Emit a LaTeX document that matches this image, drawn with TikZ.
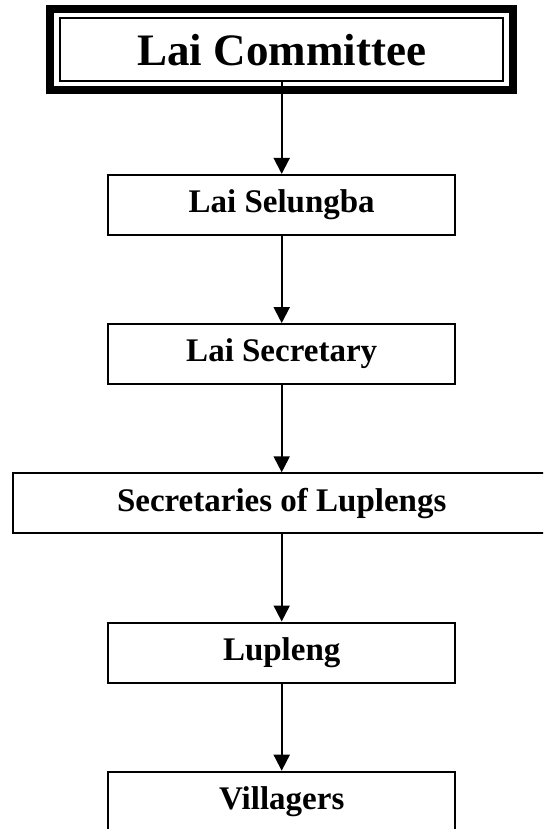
\documentclass[tikz,border=0pt]{standalone}
\usepackage{fontspec}
\setmainfont{Liberation Serif}
\usetikzlibrary{arrows.meta}
\tikzstyle{title} = [rectangle, minimum width=221.5pt, minimum height=31.5pt, inner sep=0pt, text centered, draw=black, line width=1.25pt, font=\fontsize{22.5}{26}\selectfont\bfseries]
\tikzstyle{process} = [rectangle, minimum width=173.5pt, minimum height=30pt, inner sep=0pt, text centered, draw=black, line width=1pt, font=\fontsize{16.5}{20}\selectfont\bfseries]
\tikzstyle{arrow} = [line width=1pt,->,>={Triangle[length=8pt,width=8pt]}]

\begin{document}
\begin{tikzpicture}[node distance=74.6pt]
			\clip (-140.85pt,24.85pt) rectangle (130.65pt,-389.65pt);
			\node (lai) [title] {Lai Committee};
			\draw [line width=4pt] ([shift={(-4.25pt,4pt)}]lai.north west) rectangle ([shift={(4.25pt,-4pt)}]lai.south east);
			\node (selungba) [process, below of=lai, yshift=-3pt] {Lai Selungba};
			\node (secretary) [process, below of=selungba] {Lai Secretary};
			\node (secretaries) [process, below of=secretary, minimum width=268.5pt] {Secretaries of Luplengs};
			\node (lupleng) [process, below of=secretaries] {Lupleng};
			\node (villagers) [process, below of=lupleng] {Villagers};
			\draw [arrow] (lai.south) -- (selungba);
			\draw [arrow] (selungba) -- (secretary);
			\draw [arrow] (secretary) -- (secretaries);
			\draw [arrow] (secretaries) -- (lupleng);
			\draw [arrow] (lupleng) -- (villagers);
		\end{tikzpicture}
\end{document}
